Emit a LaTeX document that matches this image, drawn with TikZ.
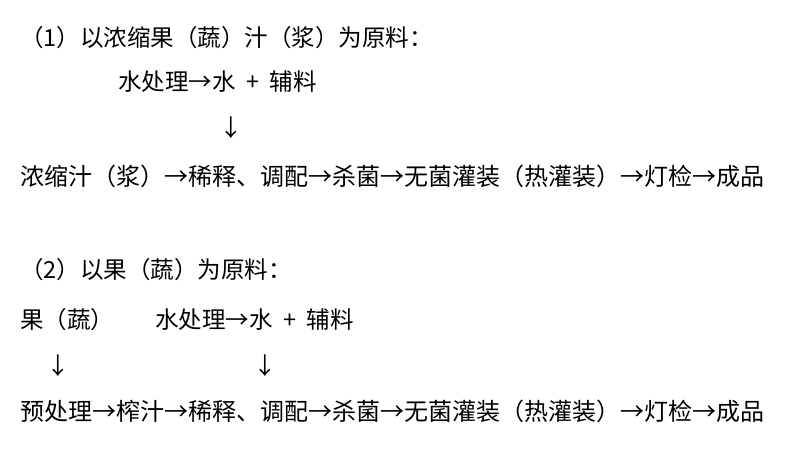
\documentclass[tikz,border=0pt]{standalone}
\usepackage{fontspec}
\setmainfont{Noto Sans CJK SC}
\begin{document}
\begin{tikzpicture}[x=1pt,y=-1pt,txt/.style={anchor=west,inner sep=0pt,font=\fontsize{23.5}{25}\selectfont},flow/.style={txt,font=\fontsize{24}{26}\selectfont}]
\useasboundingbox (0,0) rectangle (790,459);
\node[txt] (t1) at (20,38) {（1）以浓缩果（蔬）汁（浆）为原料：};
\node[txt] (w1) at (118,82) {水处理→水\ \ +\ \ 辅料};
\node[txt] (d1) at (219,128) {↓};
\node[flow] (l1) at (20,176) {浓缩汁（浆）→稀释、调配→杀菌→无菌灌装（热灌装）→灯检→成品};
\node[txt] (t2) at (20,270) {（2）以果（蔬）为原料：};
\node[txt] (f2) at (20,320) {果（蔬）};
\node[txt] (w2) at (155,320) {水处理→水\ \ +\ \ 辅料};
\node[txt] (d2) at (46,366) {↓};
\node[txt] (d3) at (253,366) {↓};
\node[flow] (l2) at (20,411) {预处理→榨汁→稀释、调配→杀菌→无菌灌装（热灌装）→灯检→成品};
\end{tikzpicture}
\end{document}
